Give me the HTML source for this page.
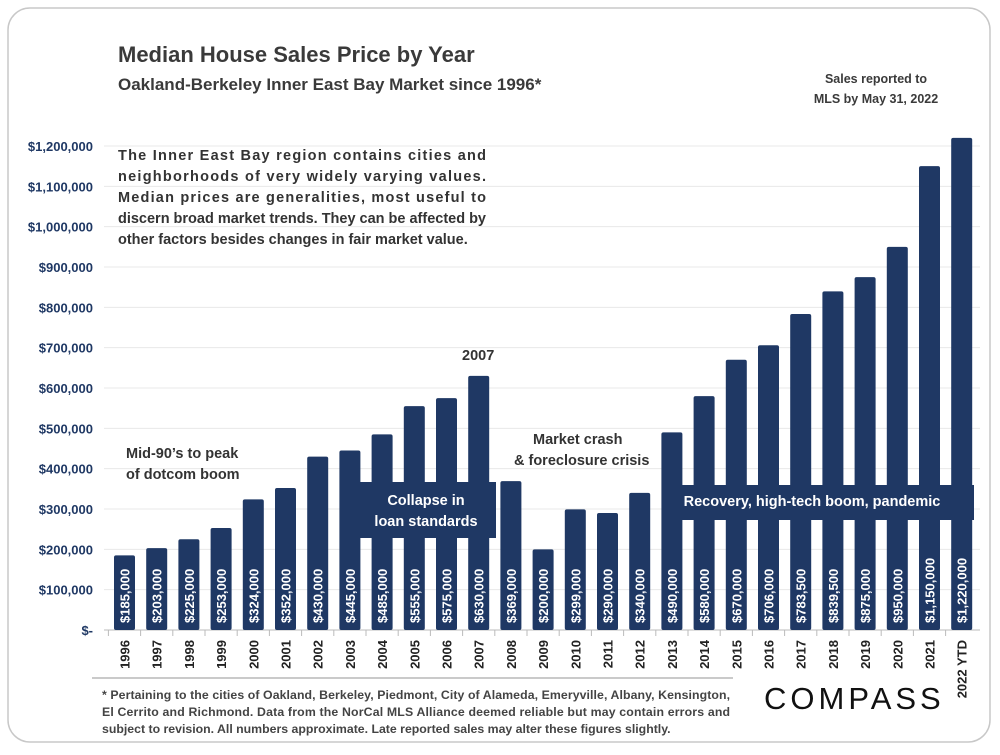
<!DOCTYPE html>
<html><head><meta charset="utf-8"><style>
body{margin:0;background:#fff;font-family:"Liberation Sans",Calibri,sans-serif;}
svg text{font-family:"Liberation Sans",sans-serif;}
</style></head><body>
<svg id="c" width="1000" height="750" xmlns="http://www.w3.org/2000/svg">
<rect x="8" y="8" width="982" height="734" rx="22" fill="#fff" stroke="#c8c8c8" stroke-width="1.5"/>
<text x="118" y="62" font-size="22" font-weight="bold" fill="#3a3a3a">Median House Sales Price by Year</text>
<text x="118" y="90" font-size="17" font-weight="bold" fill="#3a3a3a">Oakland-Berkeley Inner East Bay Market since 1996*</text>
<text x="876" y="83" font-size="12.5" font-weight="bold" fill="#3a3a3a" text-anchor="middle">Sales reported to</text>
<text x="876" y="103" font-size="12.5" font-weight="bold" fill="#3a3a3a" text-anchor="middle">MLS by May 31, 2022</text>
<g id="grid"></g><g id="bars"></g><g id="labels"></g>
<g font-size="14.5" font-weight="bold" fill="#333">
<text x="118" y="160" textLength="368" lengthAdjust="spacing">The Inner East Bay region contains cities and</text>
<text x="118" y="181" textLength="368" lengthAdjust="spacing">neighborhoods of very widely varying values.</text>
<text x="118" y="202" textLength="368" lengthAdjust="spacing">Median prices are generalities, most useful to</text>
<text x="118" y="223" textLength="368" lengthAdjust="spacing">discern broad market trends. They can be affected by</text>
<text x="118" y="244">other factors besides changes in fair market value.</text>
</g>
<g font-size="14.5" font-weight="bold" fill="#333">
<text x="126" y="458">Mid-90’s to peak</text>
<text x="126" y="479">of dotcom boom</text>
<text x="462" y="360">2007</text>
<text x="533" y="444">Market crash</text>
<text x="514" y="465">&amp; foreclosure crisis</text>
</g>
<rect x="356" y="482" width="140" height="56" fill="#1f3864"/>
<text x="426" y="505" font-size="14.5" font-weight="bold" fill="#fff" text-anchor="middle">Collapse in</text>
<text x="426" y="526" font-size="14.5" font-weight="bold" fill="#fff" text-anchor="middle">loan standards</text>
<rect x="664" y="485" width="310" height="35" fill="#1f3864"/>
<text x="812" y="506" font-size="14.5" font-weight="bold" fill="#fff" text-anchor="middle">Recovery, high-tech boom, pandemic</text>
<line x1="92" y1="678" x2="733" y2="678" stroke="#aaa" stroke-width="1.2"/>
<g font-size="12.3" font-weight="bold" fill="#444">
<text x="102" y="699" textLength="628" lengthAdjust="spacing">* Pertaining to the cities of Oakland, Berkeley, Piedmont, City of Alameda, Emeryville, Albany, Kensington,</text>
<text x="102" y="716" textLength="628" lengthAdjust="spacing">El Cerrito and Richmond. Data from the NorCal MLS Alliance deemed reliable but may contain errors and</text>
<text x="102" y="733">subject to revision. All numbers approximate. Late reported sales may alter these figures slightly.</text>
</g>
<text x="764" y="709" font-size="31" fill="#111" letter-spacing="4">COMPASS</text>
</svg>
<script>
const years=["1996","1997","1998","1999","2000","2001","2002","2003","2004","2005","2006","2007","2008","2009","2010","2011","2012","2013","2014","2015","2016","2017","2018","2019","2020","2021","2022 YTD"];
const prices=[185000,203000,225000,253000,324000,352000,430000,445000,485000,555000,575000,630000,369000,200000,299000,290000,340000,490000,580000,670000,706000,783500,839500,875000,950000,1150000,1220000];
const yTicks=[0,100000,200000,300000,400000,500000,600000,700000,800000,900000,1000000,1100000,1200000];
const NS="http://www.w3.org/2000/svg";
const y0=630,yTop=146,vMax=1200000,x0=124.5,pitch=32.2,bw=21;
const ys=v=>y0-(v/vMax)*(y0-yTop);
const xs=i=>x0+i*pitch;
function mk(t,a,p){const e=document.createElementNS(NS,t);for(const k in a)e.setAttribute(k,a[k]);p.appendChild(e);return e;}
const fmt=v=>"$"+v.toLocaleString("en-US");
const G=document.getElementById("grid"),B=document.getElementById("bars"),L=document.getElementById("labels");
yTicks.forEach(v=>{
 const ln=mk("line",{x1:104,x2:980,y1:ys(v),y2:ys(v),stroke:v===0?"#bbb":"#e8e8e8","stroke-width":1},G);
 
 
 const t=mk("text",{x:93,y:ys(v)+5,"text-anchor":"end","font-size":13,"font-weight":"bold",fill:"#1f3864"},G);
 t.textContent=v===0?"$-":fmt(v);
 
 
});
years.forEach((yr,i)=>{
 const cx=xs(i);
 const tk=mk("line",{x1:cx-pitch/2,x2:cx-pitch/2,y1:y0,y2:y0+6,stroke:"#bbb"},G);
 
 
 const r=mk("rect",{x:cx-bw/2,y:ys(prices[i]),width:bw,height:y0-ys(prices[i]),rx:2,fill:"#1f3864"},B);
 
 
 const vl=mk("text",{transform:`translate(${cx+5},${y0-7}) rotate(-90)`,"font-size":13,"font-weight":"bold",fill:"#fff"},L);
 vl.textContent=fmt(prices[i]);
 
 
 const xl=mk("text",{transform:`translate(${cx+5},${y0+10}) rotate(-90)`,"font-size":13,"font-weight":"bold",fill:"#222","text-anchor":"end"},L);
 xl.textContent=yr;
 
 
});
</script>
</body></html>
